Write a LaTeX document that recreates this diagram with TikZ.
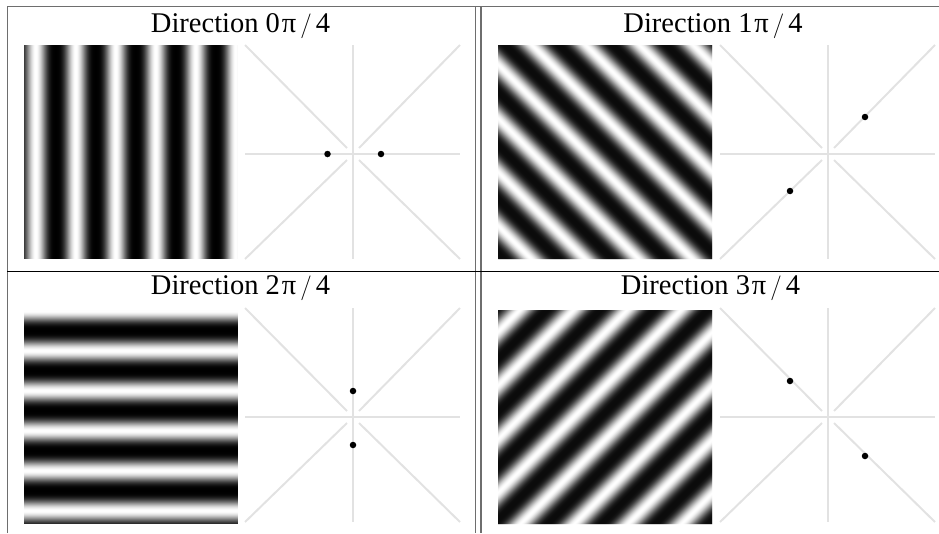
\documentclass[tikz,border=0pt]{standalone}
\usepackage{fontspec}
\setmainfont{Liberation Serif}
\definecolor{rulegray}{HTML}{6E6E6E}
\definecolor{axisgray}{HTML}{E2E2E2}
\newcommand{\quarter}[1]{#1\hspace{2pt}π\hspace{4pt}$/$\hspace{4pt}4}
\tikzset{
  rule/.style={rulegray,line width=1.3pt},
  axis/.style={axisgray,line width=2pt},
  title/.style={anchor=base,inner sep=0pt,font=\fontsize{28.5}{32}\selectfont},
  peak/.style={circle,fill=black,inner sep=0pt,minimum size=6.5pt},
}
% stripes across x: left, top, x of a bright band (period 40)
\newcommand{\gratingx}[3]{%
  \begin{scope}
    \clip (#1,#2) rectangle ++(214,214);
    \foreach \i in {0,...,213}{
      \pgfmathsetmacro{\gv}{(1+cos(9*(\i+0.5+#1-#3)))/2}
      \pgfmathsetmacro{\gl}{100*\gv*sqrt(abs(\gv))}
      \fill[white!\gl!black] (#1+\i,#2) rectangle ++(1.3,214);
    }
  \end{scope}}
% stripes across y: left, top, y of a bright band (period 40)
\newcommand{\gratingy}[3]{%
  \begin{scope}
    \clip (#1,#2) rectangle ++(214,214);
    \foreach \i in {0,...,213}{
      \pgfmathsetmacro{\gv}{(1+cos(9*(\i+0.5+#2-#3)))/2}
      \pgfmathsetmacro{\gl}{100*\gv*sqrt(abs(\gv))}
      \fill[white!\gl!black] (#1,#2+\i) rectangle ++(214,1.3);
    }
  \end{scope}}
% slanted stripes x = t + s*y: left, top, s, t of a bright band, first t
\newcommand{\gratingd}[5]{%
  \begin{scope}
    \clip (#1,#2) rectangle ++(214,214);
    \foreach \i in {0,...,428}{
      \pgfmathsetmacro{\gt}{#5+\i}
      \pgfmathsetmacro{\gv}{(1+cos(6.704*(\gt+0.5-#4)))/2}
      \pgfmathsetmacro{\gl}{100*\gv*sqrt(abs(\gv))}
      \pgfmathsetmacro{\xa}{\gt+(#3)*(#2)}
      \pgfmathsetmacro{\xb}{\gt+(#3)*(#2+214)}
      \fill[white!\gl!black] (\xa,#2) -- (\xb,#2+214)
        -- ++(1.4,0) -- (\xa+1.4,#2) -- cycle;
    }
  \end{scope}}
% spectrum axes round a centre
\newcommand{\fftpanel}[2]{%
  \draw[axis] (#1-108,#2) -- (#1+107,#2);
  \draw[axis] (#1,#2-109) -- (#1,#2+105);
  \draw[axis] (#1-108,#2-109) -- (#1-6,#2-6);
  \draw[axis] (#1+6,#2+6) -- (#1+107,#2+105);
  \draw[axis] (#1+107,#2-109) -- (#1+6,#2-6);
  \draw[axis] (#1-6,#2+6) -- (#1-108,#2+105);}

\begin{document}
\begin{tikzpicture}[x=1pt,y=-1pt]
\useasboundingbox (0,0) rectangle (939,533);

% table
\draw[rule] (7.5,533) -- (7.5,6.5) -- (939,6.5);
\draw[rule] (475.5,6.5) -- (475.5,533);
\draw[rule] (481,6.5) -- (481,533);
\draw[black,line width=1.1pt] (7,271.5) -- (939,271.5);

% direction 0
\node[title] (t0) at (240.5,32) {Direction \quarter{0}};
\gratingx{24}{45}{36}
\fftpanel{353}{154}
\node[peak] (p0a) at (327.5,154) {};
\node[peak] (p0b) at (381,154) {};

% direction 1
\node[title] (t1) at (713,32) {Direction \quarter{1}};
\gratingd{498}{45}{1}{487}{239}
\fftpanel{828}{154}
\node[peak] (p1a) at (865,117) {};
\node[peak] (p1b) at (790,191) {};

% direction 2
\node[title] (t2) at (240.5,294) {Direction \quarter{2}};
\gratingy{24}{310}{311}
\fftpanel{353}{417}
\node[peak] (p2a) at (353,391) {};
\node[peak] (p2b) at (353,445) {};

% direction 3
\node[title] (t3) at (710.5,294) {Direction \quarter{3}};
\gratingd{498}{310}{-1}{830}{808}
\fftpanel{828}{417}
\node[peak] (p3a) at (790,381) {};
\node[peak] (p3b) at (865,456) {};
\end{tikzpicture}
\end{document}
